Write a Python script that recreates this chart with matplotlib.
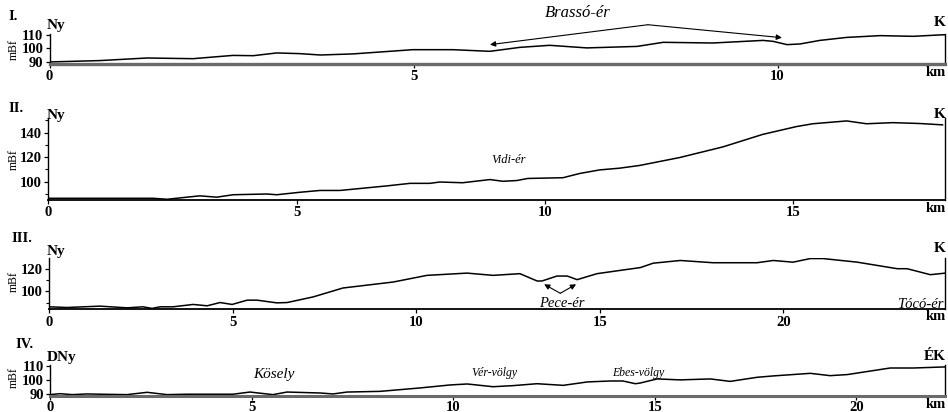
import matplotlib
matplotlib.use("Agg")
import matplotlib.pyplot as plt
from matplotlib.ticker import MultipleLocator

plt.rcParams['font.family'] = ['Liberation Serif', 'DejaVu Serif']

# --- profile data (km, mBf) ---
km_1 = [0, 0.69, 1.34, 1.97, 2.52, 2.80, 3.12, 3.44, 3.72, 4.17, 4.99, 5.54, 6.05,
        6.46, 6.87, 7.38, 8.07, 8.43, 9.11, 9.80, 9.94, 10.13, 10.31, 10.58,
        10.95, 11.41, 11.86, 12.30]
elev_1 = [90.0, 91.0, 92.9, 92.4, 94.8, 94.6, 96.6, 96.1, 95.1, 95.9, 99.0, 99.0, 97.8,
          100.7, 102.2, 100.3, 101.4, 104.4, 103.9, 105.8, 105.1, 102.7, 103.2, 105.8,
          108.0, 109.3, 108.8, 110.0]

km_2 = [0, 2.11, 2.39, 3.05, 3.39, 3.72, 4.40, 4.60, 5.06, 5.47, 5.87, 6.81, 7.28,
        7.68, 7.88, 8.34, 8.89, 9.15, 9.43, 9.65, 10.36, 10.70, 11.10, 11.50, 11.90,
        12.71, 13.58, 14.38, 15.06, 15.39, 16.07, 16.47, 17.00, 17.54, 18.0]
elev_2 = [86.4, 86.4, 85.6, 88.4, 87.3, 89.3, 89.9, 89.3, 91.3, 92.8, 92.8, 96.5, 98.6,
          98.6, 99.7, 99.1, 101.7, 100.3, 100.9, 102.6, 103.2, 106.7, 109.6, 111.0, 113.2,
          119.7, 128.4, 138.6, 145.0, 147.3, 149.6, 147.3, 148.2, 147.5, 146.4]

km_3 = [0, 0.48, 1.38, 2.12, 2.55, 2.80, 3.02, 3.37, 3.92, 4.30, 4.65, 4.98, 5.39,
        5.66, 6.20, 6.48, 7.19, 8.00, 9.37, 10.29, 11.38, 12.09, 12.82, 13.29,
        13.42, 13.83, 14.11, 14.38, 14.92, 15.55, 16.10, 16.45, 17.19, 18.08, 19.28,
        19.72, 20.26, 20.73, 21.08, 22.01, 23.10, 23.37, 24.0, 24.41]
elev_3 = [86.2, 85.6, 86.8, 85.3, 86.2, 84.8, 86.2, 86.2, 88.3, 87.1, 90.0, 88.3, 92.1,
          92.1, 89.7, 90.0, 95.0, 102.9, 108.2, 114.1, 116.1, 114.1, 115.6, 109.1,
          109.1, 113.5, 113.5, 110.3, 115.6, 118.5, 121.0, 124.9, 127.3, 125.3, 125.3,
          127.3, 125.8, 129.0, 129.0, 125.8, 120.0, 120.0, 114.7, 116.1]

km_4 = [0, 0.25, 0.55, 0.92, 1.24, 1.91, 2.41, 2.90, 3.40, 4.54, 4.96, 5.53, 5.88,
        6.70, 7.02, 7.37, 8.19, 9.18, 9.93, 10.35, 10.99, 11.49, 12.08, 12.73, 13.33,
        13.90, 14.21, 14.52, 14.64, 15.06, 15.63, 16.38, 16.87, 17.54, 17.94, 18.86,
        19.35, 19.78, 20.84, 21.41, 22.21]
elev_4 = [89.3, 90.0, 89.3, 89.8, 89.6, 89.3, 91.0, 89.3, 89.6, 89.6, 91.2, 89.3, 91.2,
          90.5, 89.8, 91.2, 91.7, 94.2, 96.4, 97.1, 95.1, 95.9, 97.3, 96.1, 98.6,
          99.3, 99.3, 97.3, 97.8, 100.8, 100.1, 100.8, 99.0, 102.0, 103.0, 104.9,
          103.2, 104.0, 108.8, 108.8, 109.6]

yticks_1 = [90, 100, 110]
yticks_2 = [100, 120, 140]
yticks_3 = [100, 120]
yticks_4 = [90, 100, 110]

W, H = 948, 412


def px_box(left, top, right, bottom):
    return [left / W, 1 - bottom / H, (right - left) / W, (bottom - top) / H]


def fig_text(x, y, s, **kw):
    fig.text(x / W, 1 - y / H, s, **kw)


fig = plt.figure(figsize=(9.48, 4.12), dpi=100)

panels = [
    # km, elev, box, xlim, ylim, y ticks, minor y, base colour, base width, x pad
    (km_1, elev_1, px_box(49.5, 34, 945, 64), 12.3, (88.5, 110.5), yticks_1, None, '#6a6a6a', 2.4, 1.5),
    (km_2, elev_2, px_box(48.3, 118, 945, 200), 18.05, (85, 152), yticks_2, 10, 'black', 1.3, 1.5),
    (km_3, elev_3, px_box(49.3, 258, 945, 309.3), 24.4, (84, 129.5), yticks_3, 10, 'black', 1.3, 1.5),
    (km_4, elev_4, px_box(50, 365, 945, 396), 22.2, (88.3, 111), yticks_4, None, '#6a6a6a', 2.2, 0.3),
]

axes = []
for km, elev, box, xmax, ylim, yt, ymin, bcol, bw, xpad in panels:
    ax = fig.add_axes(box)
    ax.plot(km, elev, color='black', lw=1.1)
    ax.set_xlim(0, xmax)
    ax.set_ylim(*ylim)
    ax.spines['top'].set_visible(False)
    ax.spines['left'].set_linewidth(1.0)
    ax.spines['right'].set_linewidth(1.0)
    ax.spines['bottom'].set_color(bcol)
    ax.spines['bottom'].set_linewidth(bw)
    xt = list(range(0, int(xmax - 1.5) + 1, 5))
    ax.set_xticks(xt)
    ax.set_xticklabels([str(t) for t in xt], fontweight='bold')
    ax.set_yticks(yt)
    ax.set_yticklabels([str(t) for t in yt], fontweight='bold')
    if ymin:
        ax.yaxis.set_minor_locator(MultipleLocator(ymin))
        ax.tick_params(axis='y', which='minor', length=2, width=0.8)
    ax.tick_params(axis='both', which='major', length=3, width=0.9, pad=1.5,
                   labelsize=10.5)
    ax.tick_params(axis='x', pad=xpad)
    axes.append(ax)

# panel numbers, directions, units
numerals = [("I.", 8, 17), ("II.", 8, 109), ("III.", 11, 239), ("IV.", 15, 344)]
for s, x, y in numerals:
    fig_text(x, y, s, fontsize=10.5, fontweight='bold', va='center', ha='left')

west = [("Ny", 47, 26), ("Ny", 47, 116), ("Ny", 47, 251), ("DNy", 47, 357)]
east = [("K", 946, 22), ("K", 946, 114), ("K", 946, 249), ("ÉK", 946, 356)]
for s, x, y in west:
    fig_text(x, y, s, fontsize=11, fontweight='bold', va='center', ha='left')
for s, x, y in east:
    fig_text(x, y, s, fontsize=11, fontweight='bold', va='center', ha='right')

for y in [72, 208, 316, 404]:
    fig_text(946, y, "km", fontsize=10.5, fontweight='bold', va='center', ha='right')

for y in [50, 160, 282, 378]:
    fig_text(14, y, "mBf", fontsize=8.5, rotation=90, va='center', ha='center')

# watercourse names and arrows
arrow = dict(arrowstyle='-|>', color='black', lw=0.8, mutation_scale=8,
             shrinkA=0, shrinkB=0)
ax = axes[0]
ax.text(7.26, 126.1, "Brassó-ér", style='italic', fontsize=12, ha='center', va='center',
        clip_on=False)
ax.annotate("", xy=(6.05, 102.7), xytext=(8.22, 117.3), arrowprops=arrow,
            annotation_clip=False)
ax.annotate("", xy=(10.06, 107.8), xytext=(8.22, 117.3), arrowprops=arrow,
            annotation_clip=False)

axes[1].text(9.27, 118, "Vidi-ér", style='italic', fontsize=9, ha='center', va='center')

ax = axes[2]
ax.text(13.97, 89.4, "Pece-ér", style='italic', fontsize=10.5, ha='center', va='center')
ax.annotate("", xy=(13.48, 106.2), xytext=(13.92, 98.2), arrowprops=arrow)
ax.annotate("", xy=(14.35, 106.2), xytext=(13.92, 98.2), arrowprops=arrow)
ax.text(24.35, 88.3, "Tócó-ér", style='italic', fontsize=10.5, ha='right', va='center')

ax = axes[3]
ax.text(5.56, 103.9, "Kösely", style='italic', fontsize=11, ha='center', va='center')
ax.text(11.02, 104.9, "Vér-völgy", style='italic', fontsize=8.5, ha='center', va='center')
ax.text(14.59, 105.4, "Ebes-völgy", style='italic', fontsize=8.5, ha='center', va='center')

fig.savefig("out.png", dpi=100)
